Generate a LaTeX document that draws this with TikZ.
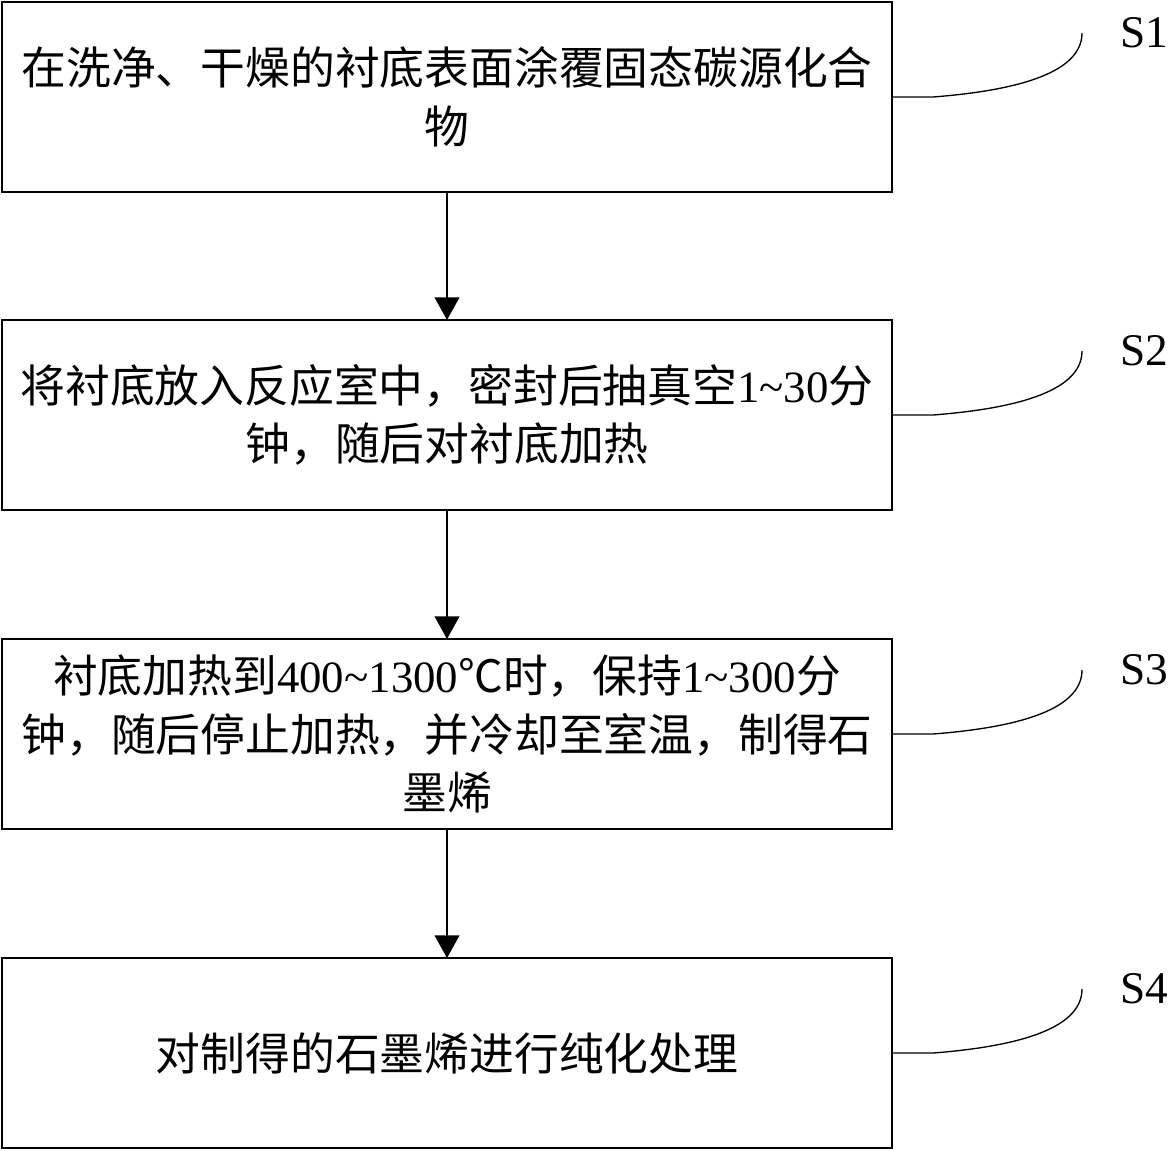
\documentclass[tikz,border=0pt]{standalone}
\usepackage{fontspec}
\setmainfont{Liberation Serif}
\newfontfamily\zh{Noto Sans CJK SC}
\newfontfamily\lat{Liberation Serif}
\usetikzlibrary{arrows.meta,calc}
\newcommand{\nm}[1]{{\lat #1}}
\begin{document}
\begin{tikzpicture}[x=0.75pt,y=-0.75pt,
  box/.style={draw, line width=1.5pt, minimum width=667.5pt, minimum height=142.5pt,
    inner sep=0pt, outer sep=0pt, align=center, font=\zh\fontsize{33.6}{44}\selectfont},
  arr/.style={line width=1.5pt, -{Triangle[length=17pt,width=18.5pt]}},
  lead/.style={line width=1pt},
  lab/.style={anchor=base, inner sep=0pt, font=\lat\fontsize{34}{40}\selectfont}]
\fill[white] (0,0) rectangle (1169,1150);
\useasboundingbox (0,0) rectangle (1169,1150);

\node[box] (b1) at (447,97) {在洗净、干燥的衬底表面涂覆固态碳源化合\\物};
\node[box] (b2) at (447,415) {将衬底放入反应室中，密封后抽真空\nm{1\textasciitilde30}分\\钟，随后对衬底加热};
\node[box] (b3) at (447,734) {衬底加热到\nm{400\textasciitilde1300}℃时，保持\nm{1\textasciitilde300}分\\钟，随后停止加热，并冷却至室温，制得石\\墨烯};
\node[box] (b4) at (447,1053) {对制得的石墨烯进行纯化处理};

\draw[arr] (b1.south) -- (b2.north);
\draw[arr] (b2.south) -- (b3.north);
\draw[arr] (b3.south) -- (b4.north);

\foreach \i/\y in {1/97,2/415,3/734,4/1053}{
  \coordinate (e\i) at (1082,\y-64);
  \node[lab] (s\i) at (1144,\y-50) {S\i};
  \draw[lead] (b\i.east) -- ++(41,0) .. controls +(77,-6) and ([yshift=-31.5pt]e\i) .. (e\i);
}
\end{tikzpicture}
\end{document}
